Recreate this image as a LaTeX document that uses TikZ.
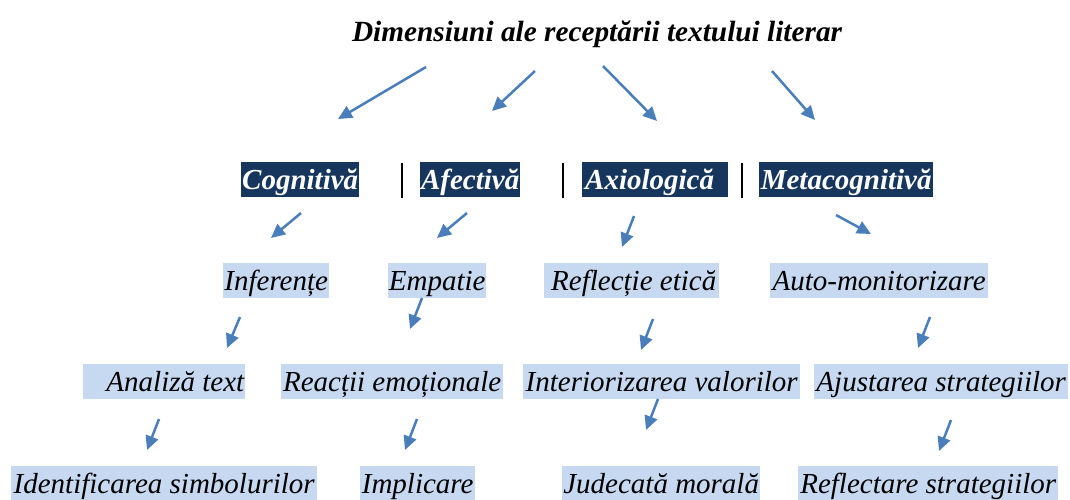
\documentclass[tikz,border=0pt]{standalone}
\usepackage{fontspec}
\setmainfont{Liberation Serif}
\usetikzlibrary{arrows.meta}
\definecolor{navy}{HTML}{17365D}
\definecolor{lightb}{HTML}{C6D9F1}
\definecolor{arr}{HTML}{4A7EBB}
\begin{document}
\begin{tikzpicture}[x=1pt,y=-1pt,
  lvlone/.style={fill=navy, text=white, inner sep=0pt, text height=27pt, text depth=8pt,
     font=\fontsize{29}{34}\selectfont\bfseries\itshape, anchor=base west},
  lvlbox/.style={fill=lightb, text=black, inner sep=0pt, text height=27pt, text depth=8pt,
     font=\fontsize{29}{34}\selectfont\itshape, anchor=base west},
  titlestyle/.style={inner sep=0pt, font=\fontsize{29.3}{34}\selectfont\bfseries\itshape, anchor=base},
  conn/.style={draw=arr, line width=2.5pt, -{Triangle[length=14pt,width=13pt]}},
  sepbar/.style={draw=black, line width=2.6pt}]
\useasboundingbox (0,0) rectangle (1070,499);

% title
\node[titlestyle] (title) at (597,41) {Dimensiuni ale receptării textului literar};

% level 1
\node[lvlone] (cog) at (241,189) {\makebox[118pt][c]{Cognitivă}};
\node[lvlone] (afe) at (420,189) {\makebox[100pt][c]{Afectivă}};
\node[lvlone] (axi) at (582,189) {\makebox[146pt][l]{\hspace*{3pt}Axiologică}};
\node[lvlone] (meta) at (759,189) {\makebox[174pt][c]{Metacognitivă}};

% separators
\coordinate (s1a) at (402,163); \coordinate (s1b) at (402,198);
\coordinate (s2a) at (563,163); \coordinate (s2b) at (563,198);
\coordinate (s3a) at (742,163); \coordinate (s3b) at (742,198);
\draw[sepbar] (s1a) -- (s1b);
\draw[sepbar] (s2a) -- (s2b);
\draw[sepbar] (s3a) -- (s3b);

% level 2
\node[lvlbox] (inf) at (223,290) {\makebox[106pt][c]{Inferențe}};
\node[lvlbox] (emp) at (388,290) {\makebox[98pt][c]{Empatie}};
\node[lvlbox] (ref) at (544,290) {\makebox[175pt][l]{\hspace*{7pt}Reflecție etică}};
\node[lvlbox] (auto) at (770,290) {\makebox[218pt][c]{Auto-monitorizare}};

% level 3
\node[lvlbox] (ana) at (83,391) {\makebox[162pt][r]{Analiză text\hspace*{1pt}}};
\node[lvlbox] (rea) at (281,391) {\makebox[222pt][c]{Reacții emoționale}};
\node[lvlbox] (int) at (523,391) {\makebox[277pt][c]{Interiorizarea valorilor}};
\node[lvlbox] (aju) at (814,391) {\makebox[254pt][c]{Ajustarea strategiilor}};

% level 4
\node[lvlbox] (ide) at (11,493) {\makebox[306pt][c]{Identificarea simbolurilor}};
\node[lvlbox] (imp) at (360,493) {\makebox[115pt][c]{Implicare}};
\node[lvlbox] (jud) at (562,493) {\makebox[198pt][c]{Judecată morală}};
\node[lvlbox] (refl) at (798,493) {\makebox[260pt][c]{Reflectare strategiilor}};

% arrow end points
\coordinate (t1s) at (426,67);  \coordinate (t1e) at (338,119);
\coordinate (t2s) at (535,71);  \coordinate (t2e) at (492,111);
\coordinate (t3s) at (603,66);  \coordinate (t3e) at (657,121);
\coordinate (t4s) at (772,71);  \coordinate (t4e) at (815,120);

\coordinate (c1s) at (301,213); \coordinate (c1e) at (271,238);
\coordinate (c2s) at (467,213); \coordinate (c2e) at (437,238);
\coordinate (c3s) at (634,216); \coordinate (c3e) at (622,247);
\coordinate (c4s) at (836,215); \coordinate (c4e) at (871,234);

\coordinate (e1s) at (240,317); \coordinate (e1e) at (227,348);
\coordinate (e2s) at (422,298); \coordinate (e2e) at (410,329);
\coordinate (e3s) at (653,319); \coordinate (e3e) at (641,350);
\coordinate (e4s) at (930,317); \coordinate (e4e) at (918,348);

\coordinate (f1s) at (159,419); \coordinate (f1e) at (147,450);
\coordinate (f2s) at (417,419); \coordinate (f2e) at (405,450);
\coordinate (f3s) at (658,399); \coordinate (f3e) at (646,430);
\coordinate (f4s) at (951,420); \coordinate (f4e) at (939,451);

\foreach \a in {t1,t2,t3,t4,c1,c2,c3,c4,e1,e2,e3,e4,f1,f2,f3,f4}
  \draw[conn] (\a s) -- (\a e);
\end{tikzpicture}
\end{document}
